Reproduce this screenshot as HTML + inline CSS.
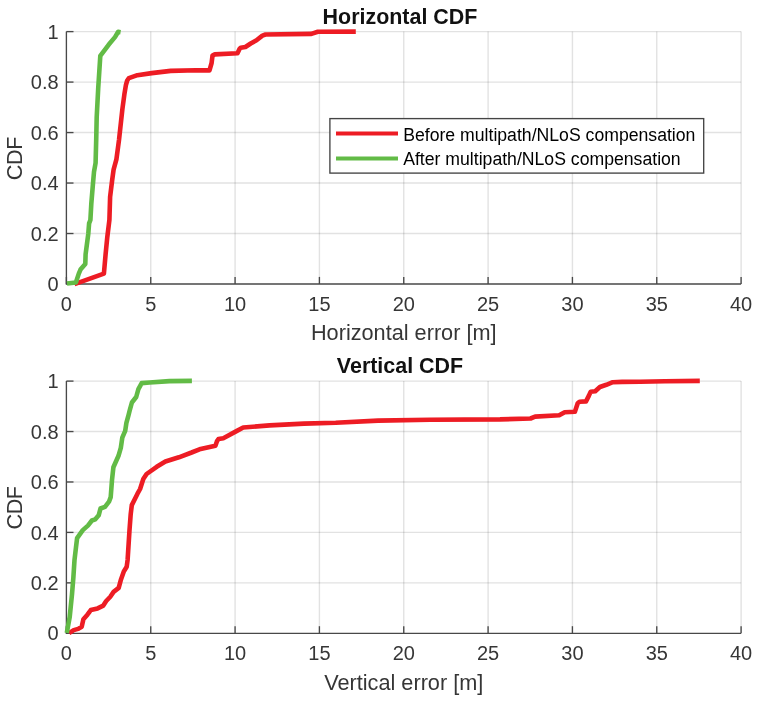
<!DOCTYPE html>
<html><head><meta charset="utf-8"><title>CDF</title>
<style>
html,body{margin:0;padding:0;background:#fff;}
svg{display:block;font-family:"Liberation Sans",Arial,sans-serif;}
.g{stroke:#262626;stroke-opacity:0.135;stroke-width:1.4;fill:none}
.ax{stroke:#484848;stroke-width:1.35;fill:none}
.t{font-size:20px;fill:#363636}
.lb{font-size:21.7px;fill:#363636}
.ti{font-size:21.45px;font-weight:bold;fill:#111}
.lg{font-size:17.65px;fill:#000}
.r{stroke:#ed1c24;stroke-width:4.6;fill:none;stroke-linejoin:round;stroke-linecap:butt}
.gr{stroke:#62bb46;stroke-width:4.6;fill:none;stroke-linejoin:round;stroke-linecap:butt}
</style></head><body>
<svg width="757" height="702" viewBox="0 0 757 702">
<rect width="757" height="702" fill="#fff"/>
<line x1="150.74" y1="31.6" x2="150.74" y2="284.0" class="g"/>
<line x1="235.08" y1="31.6" x2="235.08" y2="284.0" class="g"/>
<line x1="319.41" y1="31.6" x2="319.41" y2="284.0" class="g"/>
<line x1="403.75" y1="31.6" x2="403.75" y2="284.0" class="g"/>
<line x1="488.09" y1="31.6" x2="488.09" y2="284.0" class="g"/>
<line x1="572.42" y1="31.6" x2="572.42" y2="284.0" class="g"/>
<line x1="656.76" y1="31.6" x2="656.76" y2="284.0" class="g"/>
<line x1="741.10" y1="31.6" x2="741.10" y2="284.0" class="g"/>
<line x1="66.4" y1="233.52" x2="741.1" y2="233.52" class="g"/>
<line x1="66.4" y1="183.04" x2="741.1" y2="183.04" class="g"/>
<line x1="66.4" y1="132.56" x2="741.1" y2="132.56" class="g"/>
<line x1="66.4" y1="82.08" x2="741.1" y2="82.08" class="g"/>
<line x1="66.4" y1="31.60" x2="741.1" y2="31.60" class="g"/>
<path d="M66.4 31.6V284.0H741.1" class="ax"/>
<line x1="66.40" y1="284.0" x2="66.40" y2="276.9" class="ax"/>
<text x="66.40" y="310.90" class="t" text-anchor="middle">0</text>
<line x1="150.74" y1="284.0" x2="150.74" y2="276.9" class="ax"/>
<text x="150.74" y="310.90" class="t" text-anchor="middle">5</text>
<line x1="235.08" y1="284.0" x2="235.08" y2="276.9" class="ax"/>
<text x="235.08" y="310.90" class="t" text-anchor="middle">10</text>
<line x1="319.41" y1="284.0" x2="319.41" y2="276.9" class="ax"/>
<text x="319.41" y="310.90" class="t" text-anchor="middle">15</text>
<line x1="403.75" y1="284.0" x2="403.75" y2="276.9" class="ax"/>
<text x="403.75" y="310.90" class="t" text-anchor="middle">20</text>
<line x1="488.09" y1="284.0" x2="488.09" y2="276.9" class="ax"/>
<text x="488.09" y="310.90" class="t" text-anchor="middle">25</text>
<line x1="572.42" y1="284.0" x2="572.42" y2="276.9" class="ax"/>
<text x="572.42" y="310.90" class="t" text-anchor="middle">30</text>
<line x1="656.76" y1="284.0" x2="656.76" y2="276.9" class="ax"/>
<text x="656.76" y="310.90" class="t" text-anchor="middle">35</text>
<line x1="741.10" y1="284.0" x2="741.10" y2="276.9" class="ax"/>
<text x="741.10" y="310.90" class="t" text-anchor="middle">40</text>
<line x1="66.4" y1="284.00" x2="73.5" y2="284.00" class="ax"/>
<text x="58.60000000000001" y="291.10" class="t" text-anchor="end">0</text>
<line x1="66.4" y1="233.52" x2="73.5" y2="233.52" class="ax"/>
<text x="58.60000000000001" y="240.62" class="t" text-anchor="end">0.2</text>
<line x1="66.4" y1="183.04" x2="73.5" y2="183.04" class="ax"/>
<text x="58.60000000000001" y="190.14" class="t" text-anchor="end">0.4</text>
<line x1="66.4" y1="132.56" x2="73.5" y2="132.56" class="ax"/>
<text x="58.60000000000001" y="139.66" class="t" text-anchor="end">0.6</text>
<line x1="66.4" y1="82.08" x2="73.5" y2="82.08" class="ax"/>
<text x="58.60000000000001" y="89.18" class="t" text-anchor="end">0.8</text>
<line x1="66.4" y1="31.60" x2="73.5" y2="31.60" class="ax"/>
<text x="58.60000000000001" y="38.70" class="t" text-anchor="end">1</text>
<text x="400" y="23.6" class="ti" text-anchor="middle">Horizontal CDF</text>
<text x="403.75" y="340.20" class="lb" text-anchor="middle">Horizontal error [m]</text>
<text transform="translate(21.5 158.60000000000002) rotate(-90)" class="lb" text-anchor="middle" style="letter-spacing:-0.5px">CDF</text>
<polyline points="74.5,284.2 103.9,273.6 105.6,254.2 107.3,237.1 109.4,220.0 110.1,197.0 112.2,179.9 113.6,169.6 116.4,159.4 118.1,146.8 119.0,140.0 122.4,109.0 124.4,94.2 125.9,85.1 127.2,80.5 128.9,78.2 137.4,75.2 151.7,73.1 170.7,70.9 196.1,70.3 209.5,70.4 211.6,63.0 212.5,55.6 214.8,54.4 237.5,53.3 239.6,48.8 240.7,47.7 245.4,47.0 250.7,43.5 256.5,40.3 262.4,35.6 265.5,34.5 311.4,33.9 317.8,31.8 355.8,31.6" class="r"/>
<polyline points="67.0,283.5 75.9,282.5 78.8,273.6 80.5,269.6 85.3,263.9 85.6,254.2 86.8,245.1 88.3,233.7 89.1,223.4 90.4,220.0 91.3,203.8 93.0,183.3 94.0,171.9 95.6,162.8 96.2,140.0 96.7,117.0 98.2,88.5 99.3,71.4 100.3,55.9 108.6,44.8 115.0,37.1 118.2,31.8 120.6,32.2" class="gr"/>
<line x1="150.74" y1="381.1" x2="150.74" y2="633.3" class="g"/>
<line x1="235.08" y1="381.1" x2="235.08" y2="633.3" class="g"/>
<line x1="319.41" y1="381.1" x2="319.41" y2="633.3" class="g"/>
<line x1="403.75" y1="381.1" x2="403.75" y2="633.3" class="g"/>
<line x1="488.09" y1="381.1" x2="488.09" y2="633.3" class="g"/>
<line x1="572.42" y1="381.1" x2="572.42" y2="633.3" class="g"/>
<line x1="656.76" y1="381.1" x2="656.76" y2="633.3" class="g"/>
<line x1="741.10" y1="381.1" x2="741.10" y2="633.3" class="g"/>
<line x1="66.4" y1="582.86" x2="741.1" y2="582.86" class="g"/>
<line x1="66.4" y1="532.42" x2="741.1" y2="532.42" class="g"/>
<line x1="66.4" y1="481.98" x2="741.1" y2="481.98" class="g"/>
<line x1="66.4" y1="431.54" x2="741.1" y2="431.54" class="g"/>
<line x1="66.4" y1="381.10" x2="741.1" y2="381.10" class="g"/>
<path d="M66.4 381.1V633.3H741.1" class="ax"/>
<line x1="66.40" y1="633.3" x2="66.40" y2="626.1999999999999" class="ax"/>
<text x="66.40" y="660.20" class="t" text-anchor="middle">0</text>
<line x1="150.74" y1="633.3" x2="150.74" y2="626.1999999999999" class="ax"/>
<text x="150.74" y="660.20" class="t" text-anchor="middle">5</text>
<line x1="235.08" y1="633.3" x2="235.08" y2="626.1999999999999" class="ax"/>
<text x="235.08" y="660.20" class="t" text-anchor="middle">10</text>
<line x1="319.41" y1="633.3" x2="319.41" y2="626.1999999999999" class="ax"/>
<text x="319.41" y="660.20" class="t" text-anchor="middle">15</text>
<line x1="403.75" y1="633.3" x2="403.75" y2="626.1999999999999" class="ax"/>
<text x="403.75" y="660.20" class="t" text-anchor="middle">20</text>
<line x1="488.09" y1="633.3" x2="488.09" y2="626.1999999999999" class="ax"/>
<text x="488.09" y="660.20" class="t" text-anchor="middle">25</text>
<line x1="572.42" y1="633.3" x2="572.42" y2="626.1999999999999" class="ax"/>
<text x="572.42" y="660.20" class="t" text-anchor="middle">30</text>
<line x1="656.76" y1="633.3" x2="656.76" y2="626.1999999999999" class="ax"/>
<text x="656.76" y="660.20" class="t" text-anchor="middle">35</text>
<line x1="741.10" y1="633.3" x2="741.10" y2="626.1999999999999" class="ax"/>
<text x="741.10" y="660.20" class="t" text-anchor="middle">40</text>
<line x1="66.4" y1="633.30" x2="73.5" y2="633.30" class="ax"/>
<text x="58.60000000000001" y="640.40" class="t" text-anchor="end">0</text>
<line x1="66.4" y1="582.86" x2="73.5" y2="582.86" class="ax"/>
<text x="58.60000000000001" y="589.96" class="t" text-anchor="end">0.2</text>
<line x1="66.4" y1="532.42" x2="73.5" y2="532.42" class="ax"/>
<text x="58.60000000000001" y="539.52" class="t" text-anchor="end">0.4</text>
<line x1="66.4" y1="481.98" x2="73.5" y2="481.98" class="ax"/>
<text x="58.60000000000001" y="489.08" class="t" text-anchor="end">0.6</text>
<line x1="66.4" y1="431.54" x2="73.5" y2="431.54" class="ax"/>
<text x="58.60000000000001" y="438.64" class="t" text-anchor="end">0.8</text>
<line x1="66.4" y1="381.10" x2="73.5" y2="381.10" class="ax"/>
<text x="58.60000000000001" y="388.20" class="t" text-anchor="end">1</text>
<text x="400" y="373.1" class="ti" text-anchor="middle">Vertical CDF</text>
<text x="403.75" y="689.50" class="lb" text-anchor="middle">Vertical error [m]</text>
<text transform="translate(21.5 508.0) rotate(-90)" class="lb" text-anchor="middle" style="letter-spacing:-0.5px">CDF</text>
<polyline points="69.1,633.1 73.7,630.1 78.2,628.9 81.7,626.7 83.4,619.3 87.4,614.7 90.8,610.1 97.6,608.4 103.3,605.6 106.2,601.0 110.1,597.0 113.6,591.9 118.7,587.9 121.0,579.4 123.8,571.4 126.7,566.8 127.6,560.0 129.5,530.1 130.7,514.2 131.8,505.1 137.5,493.7 140.1,489.0 143.3,479.0 146.6,474.0 156.7,466.8 165.4,461.5 178.9,457.3 191.6,452.5 199.5,449.3 215.4,445.7 216.9,441.4 218.5,439.0 223.3,438.2 236.0,431.4 243.2,427.5 269.6,425.4 304.0,423.6 335.7,422.8 378.0,420.6 430.0,419.7 500.0,419.4 530.5,418.5 535.1,416.6 559.2,415.3 564.7,412.2 574.9,411.8 577.7,403.3 579.5,401.8 586.0,401.4 588.8,395.9 590.6,391.8 595.2,391.3 599.9,387.0 606.3,384.8 612.8,382.2 622.1,381.9 640.0,381.7 665.0,381.3 699.8,380.9" class="r"/>
<polyline points="66.8,632.9 69.7,617.0 72.0,594.2 73.4,577.1 74.5,560.0 76.0,547.2 77.1,538.1 82.8,530.1 87.9,525.6 91.9,520.5 95.3,519.3 98.7,515.3 100.5,508.5 105.0,506.8 109.0,501.7 110.7,497.1 112.0,480.0 113.4,467.2 118.5,455.8 120.8,447.9 122.3,437.6 125.2,430.8 126.4,422.8 128.6,414.8 130.0,409.3 131.9,402.5 136.2,397.0 138.4,389.1 141.7,383.1 149.6,382.5 169.4,381.1 191.9,380.9" class="gr"/>
<rect x="329.9" y="118.6" width="373.8" height="54.5" fill="#fff" stroke="#444" stroke-width="1.35"/>
<line x1="336" y1="133.5" x2="398" y2="133.5" class="r" style="stroke-width:4.1"/>
<line x1="336" y1="158.5" x2="398" y2="158.5" class="gr" style="stroke-width:4.1"/>
<text x="403.2" y="140.8" class="lg">Before multipath/NLoS compensation</text>
<text x="403.2" y="165.2" class="lg">After multipath/NLoS compensation</text>
</svg>
</body></html>
